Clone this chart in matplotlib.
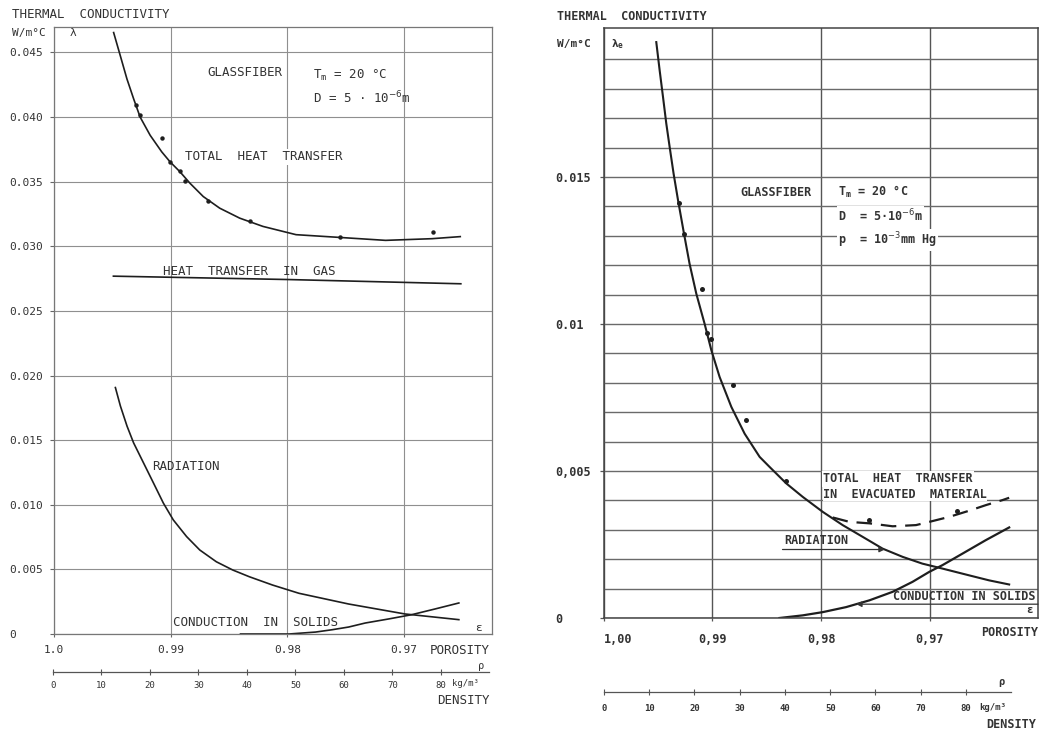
import numpy as np
import matplotlib
matplotlib.use("Agg")
import matplotlib.pyplot as plt

# ---------------- data: left chart (air-filled glassfiber) ----------------
L_total_eps = [0.99489, 0.99432, 0.99375, 0.99318, 0.99262, 0.99176, 0.99077, 0.99006, 0.98921, 0.98835,
               0.98721, 0.98580, 0.98409, 0.98210, 0.97926, 0.97557, 0.97159, 0.96760, 0.96519]
L_total_lam = [0.04654, 0.04475, 0.04295, 0.04142, 0.04000, 0.03859, 0.03731, 0.03654, 0.03577, 0.03488,
               0.03385, 0.03295, 0.03218, 0.03154, 0.03090, 0.03069, 0.03046, 0.03059, 0.03075]
L_pts_eps = [0.99296, 0.99267, 0.99077, 0.99006, 0.98921, 0.98878, 0.98679, 0.98324, 0.97546, 0.96750]
L_pts_lam = [0.04090, 0.04018, 0.03838, 0.03654, 0.03582, 0.03505, 0.03352, 0.03198, 0.03069, 0.03108]
L_gas_eps = [0.99491, 0.98000, 0.96514]
L_gas_lam = [0.02769, 0.02743, 0.02710]
L_rad_eps = [0.99474, 0.99431, 0.99374, 0.99318, 0.99233, 0.99148, 0.99063, 0.98978, 0.98864, 0.98751,
             0.98609, 0.98468, 0.98326, 0.98128, 0.97901, 0.97475, 0.96993, 0.96531]
L_rad_lam = [0.01907, 0.01764, 0.01608, 0.01479, 0.01324, 0.01169, 0.01013, 0.00883, 0.00754, 0.00650,
             0.00559, 0.00495, 0.00443, 0.00379, 0.00315, 0.00232, 0.00155, 0.00111]
L_cond_eps = [0.98402, 0.98184, 0.97986, 0.97759, 0.97617, 0.97475, 0.97333, 0.97135, 0.96937, 0.96738, 0.96531]
L_cond_lam = [0.00000, 0.00000, 0.00000, 0.00015, 0.00033, 0.00054, 0.00085, 0.00116, 0.00149, 0.00193, 0.00240]

# ---------------- data: right chart (evacuated glassfiber) ----------------
R_rad_eps = [0.99515, 0.99484, 0.99453, 0.99423, 0.99392, 0.99356, 0.99315, 0.99260, 0.99209, 0.99147,
             0.99071, 0.99009, 0.98933, 0.98825, 0.98703, 0.98565, 0.98474, 0.98321, 0.98169, 0.97985,
             0.97802, 0.97618, 0.97435, 0.97251, 0.97070, 0.96884, 0.96639, 0.96456, 0.96272]
R_rad_lam = [0.01959, 0.01863, 0.01772, 0.01682, 0.01602, 0.01512, 0.01421, 0.01307, 0.01205, 0.01103,
             0.01001, 0.00911, 0.00820, 0.00718, 0.00627, 0.00548, 0.00514, 0.00458, 0.00412, 0.00361,
             0.00316, 0.00276, 0.00236, 0.00208, 0.00185, 0.00168, 0.00145, 0.00128, 0.00114]
R_pts_eps = [0.99306, 0.99260, 0.99092, 0.99049, 0.99016, 0.98807, 0.98690, 0.98323]
R_pts_lam = [0.01413, 0.01305, 0.01120, 0.00969, 0.00950, 0.00791, 0.00672, 0.00467]
R_tot_eps = [0.97894, 0.97740, 0.97557, 0.97343, 0.97128, 0.97006, 0.96823, 0.96639, 0.96486, 0.96334, 0.96272]
R_tot_lam = [0.00342, 0.00327, 0.00322, 0.00312, 0.00316, 0.00327, 0.00344, 0.00365, 0.00384, 0.00401, 0.00409]
R_tot_pts_eps = [0.97557, 0.96747]
R_tot_pts_lam = [0.00333, 0.00364]
R_cond_eps = [0.98383, 0.98169, 0.97985, 0.97771, 0.97557, 0.97343, 0.97160, 0.97006, 0.96884, 0.96701, 0.96486, 0.96272]
R_cond_lam = [0.00000, 0.00009, 0.00020, 0.00037, 0.00060, 0.00089, 0.00123, 0.00157, 0.00180, 0.00219, 0.00265, 0.00308]

# ---------------- tick labels ----------------
L_yticks = [0, 0.005, 0.010, 0.015, 0.020, 0.025, 0.030, 0.035, 0.040, 0.045]
L_ylabels = ["0", "0.005", "0.010", "0.015", "0.020", "0.025", "0.030", "0.035", "0.040", "0.045"]
L_xticks = [1.0, 0.99, 0.98, 0.97]
L_xlabels = ["1.0", "0.99", "0.98", "0.97"]
R_yticks = [0, 0.005, 0.010, 0.015]
R_ylabels = ["0", "0,005", "0.01", "0.015"]
R_xticks = [1.0, 0.99, 0.98, 0.97]
R_xlabels = ["1,00", "0,99", "0,98", "0,97"]
dens_ticks = [0, 10, 20, 30, 40, 50, 60, 70, 80]
dens_labels = ["0", "10", "20", "30", "40", "50", "60", "70", "80"]

W, H = 1039, 729
FONT = "DejaVu Sans Mono"
INK = "#1e1e1e"
TXT = "#333333"
GRID = "#8f8f8f"

fig = plt.figure(figsize=(W / 100, H / 100), dpi=100)
fig.patch.set_facecolor("white")


def rect(x0, y0, x1, y1):
    return [x0 / W, 1 - y1 / H, (x1 - x0) / W, (y1 - y0) / H]


def ftext(x, y, s, **kw):
    kw.setdefault("family", FONT)
    kw.setdefault("color", TXT)
    kw.setdefault("fontsize", 9)
    kw.setdefault("va", "center")
    return fig.text(x / W, 1 - y / H, s, **kw)


def density_axis(x0, x1, y, xmax, lab_size, pad, bold):
    ax = fig.add_axes([x0 / W, 1 - y / H, (x1 - x0) / W, 0.0001])
    ax.set_xlim(0, xmax)
    ax.set_ylim(0, 1)
    for s in ["left", "right", "top"]:
        ax.spines[s].set_visible(False)
    ax.spines["bottom"].set_color("#555555")
    ax.spines["bottom"].set_linewidth(0.9)
    ax.set_yticks([])
    ax.set_xticks(dens_ticks)
    ax.set_xticklabels(dens_labels, family=FONT, fontsize=lab_size, color=TXT,
                       fontweight="bold" if bold else "normal")
    ax.tick_params(axis="x", direction="inout", length=5, width=0.8, color="#555555", pad=pad)
    ax.patch.set_alpha(0)
    return ax


# ======================= LEFT CHART =======================
axL = fig.add_axes(rect(54, 27, 492, 634))
axL.set_xlim(1.0, 0.96247)
axL.set_ylim(0, 0.04697)
axL.set_xticks(L_xticks)
axL.set_xticklabels(L_xlabels, family=FONT, fontsize=8, color=TXT)
axL.set_yticks(L_yticks)
axL.set_yticklabels(L_ylabels, family=FONT, fontsize=8, color=TXT, ha="left")
axL.tick_params(axis="y", length=3, width=0.8, color="#666666", pad=29)
axL.tick_params(axis="x", length=2, width=0.8, color="#666666", pad=6)
axL.grid(True, color=GRID, linewidth=0.8)
axL.set_axisbelow(True)
for s in axL.spines.values():
    s.set_color("#777777")
    s.set_linewidth(0.9)

axL.plot(L_total_eps, L_total_lam, color=INK, lw=1.2, solid_joinstyle="round")
axL.plot(L_pts_eps, L_pts_lam, "o", color=INK, ms=3.2, mew=0)
axL.plot(L_gas_eps, L_gas_lam, color=INK, lw=1.2)
axL.plot(L_rad_eps, L_rad_lam, color=INK, lw=1.2, solid_joinstyle="round")
axL.plot(L_cond_eps, L_cond_lam, color=INK, lw=1.2, solid_joinstyle="round")

wb = dict(facecolor="white", edgecolor="none", pad=1.0)
ftext(12, 15, "THERMAL  CONDUCTIVITY")
ftext(12, 33, "W/m°C", fontsize=8)
ftext(70, 33, "λ", fontsize=8)
ftext(207, 73, "GLASSFIBER")
ftext(313, 75, r"T$_\mathregular{m}$ = 20 °C")
ftext(313, 98, r"D = 5 · 10$^{-6}$m")
ftext(185, 157, "TOTAL  HEAT  TRANSFER", bbox=wb)
ftext(163, 271, "HEAT  TRANSFER  IN  GAS")
ftext(152, 467, "RADIATION")
ftext(173, 622, "CONDUCTION  IN  SOLIDS")
ftext(478, 628, "ε", fontsize=8, ha="center")
ftext(490, 650, "POROSITY", ha="right")
ftext(481, 666, "ρ", fontsize=7.5, ha="center")
ftext(490, 701, "DENSITY", ha="right")

density_axis(53, 489, 672, 89.9, 6.5, 4, False)
ftext(452, 684, "kg/m³", fontsize=6.5)

# ======================= RIGHT CHART =======================
axR = fig.add_axes(rect(603.5, 28, 1038, 618))
axR.set_xlim(1.0, 0.96007)
axR.set_ylim(0, 0.02007)
axR.set_xticks(R_xticks)
axR.set_xticklabels(R_xlabels, family=FONT, fontsize=8.5, color=TXT, fontweight="bold")
axR.get_xticklabels()[0].set_ha("left")
axR.set_yticks(R_yticks)
axR.set_yticklabels(R_ylabels, family=FONT, fontsize=8.5, color=TXT, ha="left", fontweight="bold")
axR.set_yticks(np.arange(0.001, 0.0200, 0.001), minor=True)
axR.tick_params(axis="y", which="major", length=3, width=0.9, color="#555555", pad=32)
axR.tick_params(axis="y", which="minor", length=0)
axR.tick_params(axis="x", length=2, width=0.9, color="#555555", pad=9)
axR.grid(True, which="major", axis="x", color="#555555", linewidth=1.0)
axR.grid(True, which="both", axis="y", color="#6a6a6a", linewidth=1.0)
axR.set_axisbelow(True)
for s in axR.spines.values():
    s.set_color("#444444")
    s.set_linewidth(1.1)

axR.plot(R_rad_eps, R_rad_lam, color=INK, lw=1.5, solid_joinstyle="round")
axR.plot(R_pts_eps, R_pts_lam, "o", color=INK, ms=3.6, mew=0)
axR.plot(R_tot_eps, R_tot_lam, color=INK, lw=1.6, dashes=(7, 4))
axR.plot(R_tot_pts_eps, R_tot_pts_lam, "o", color=INK, ms=3.6, mew=0)
axR.plot(R_cond_eps, R_cond_lam, color=INK, lw=1.6, solid_joinstyle="round")

# annotation arrows: horizontal leader lines from the labels to the curves
rad_y = 0.00233
rad_x = float(np.interp(rad_y, R_rad_lam[::-1], R_rad_eps[::-1]))
axR.annotate("", xy=(rad_x, rad_y), xytext=(0.98355, rad_y),
             arrowprops=dict(arrowstyle="-|>", color="#333333", lw=0.9, mutation_scale=8,
                             shrinkA=0, shrinkB=0))
cond_y = 0.00047
cond_x = float(np.interp(cond_y, R_cond_lam, R_cond_eps))
axR.annotate("", xy=(cond_x, cond_y), xytext=(0.96007, cond_y),
             arrowprops=dict(arrowstyle="-|>", color="#333333", lw=0.9, mutation_scale=8,
                             shrinkA=0, shrinkB=0))

bold = dict(fontweight="bold", fontsize=8.5)
ftext(557, 16, "THERMAL  CONDUCTIVITY", **bold)
ftext(557, 44, "W/m°C", fontweight="bold", fontsize=8)
ftext(611, 44, r"λ$_\mathregular{e}$", fontweight="bold", fontsize=8)
ftext(740, 192, "GLASSFIBER", bbox=wb, **bold)
ftext(838, 192, r"T$_\mathregular{m}$ = 20 °C", bbox=wb, **bold)
ftext(838, 216, r"D  = 5·10$^{-6}$m", bbox=wb, **bold)
ftext(838, 240, r"p  = 10$^{-3}$mm Hg", bbox=wb, **bold)
ftext(823, 479, "TOTAL  HEAT  TRANSFER", bbox=wb, **bold)
ftext(823, 494, "IN  EVACUATED  MATERIAL", bbox=dict(facecolor="white", edgecolor="none", pad=0.3), **bold)
ftext(784, 541, "RADIATION", **bold)
ftext(893, 597, "CONDUCTION IN SOLIDS", **bold)
ftext(1030, 610, "ε", ha="center", fontweight="bold", fontsize=8)
ftext(1038, 633, "POROSITY", ha="right", **bold)
ftext(1001, 682, "ρ", ha="center", fontweight="bold", fontsize=7.5)
ftext(1036, 724, "DENSITY", ha="right", **bold)

density_axis(604, 1011, 692, 89.95, 6.5, 6, True)
ftext(979, 707, "kg/m³", fontweight="bold", fontsize=6.5)

fig.savefig("out.png", dpi=100, facecolor="white")
